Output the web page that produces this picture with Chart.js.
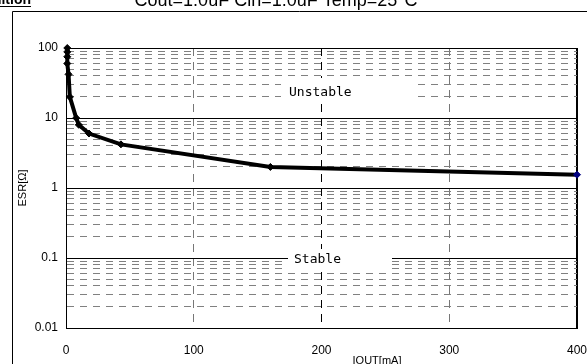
<!DOCTYPE html>
<html lang="en">
<head>
    <meta charset="UTF-8">
    <title>ESR vs IOUT</title>
    <style>
        html, body {
            margin: 0;
            padding: 0;
            background: #ffffff;
        }
        #wrap {
            width: 587px;
            height: 364px;
        }
    </style>
</head>
<body>
    <div id="wrap"><canvas id="esrChart" width="587" height="364"></canvas></div>

    <script src="https://cdn.jsdelivr.net/npm/chart.js@4"></script>
    <script>
        // values
        const ioutMA = [1, 1, 1, 1, 2, 3, 8, 10, 18, 43, 160, 400];
        const esrOhm = [100, 88, 75, 60, 42, 20, 10, 8, 6, 4.2, 2.0, 1.55];
        const xTickValues = [0, 100, 200, 300, 400];
        const yTickValues = [0.01, 0.1, 1, 10, 100];

        const isDecade = v => Math.abs(Math.log10(v) - Math.round(Math.log10(v))) < 1e-6;
        const isOneAndHalf = v => {
            const m = v / Math.pow(10, Math.floor(Math.log10(v) + 1e-9));
            return Math.abs(m - 1.5) < 1e-6;
        };

        // frame, title fragments, axis titles and the region labels
        const decor = {
            id: 'decor',
            beforeDatasetsDraw(chart) {
                const ctx = chart.ctx;
                ctx.save();
                ctx.fillStyle = '#ffffff';
                ctx.fillRect(281, 78, 134, 25);
                ctx.fillRect(288, 249, 104, 21);
                ctx.fillStyle = '#000';
                ctx.font = '13px "DejaVu Sans Mono"';
                ctx.textBaseline = 'middle';
                ctx.textAlign = 'left';
                ctx.fillText('Unstable', 289, 93);
                ctx.fillText('Stable', 294, 260);
                ctx.restore();
            },
            afterDraw(chart) {
                const ctx = chart.ctx;
                ctx.save();
                ctx.strokeStyle = '#000';
                ctx.lineWidth = 1;
                ctx.beginPath();
                ctx.moveTo(12.5, 364);
                ctx.lineTo(12.5, 11.5);
                ctx.lineTo(587, 11.5);
                ctx.stroke();

                ctx.fillStyle = '#000';
                ctx.font = '18px "Liberation Sans", Arial, sans-serif';
                ctx.textAlign = 'center';
                ctx.textBaseline = 'alphabetic';
                ctx.fillText('Cout=1.0uF Cin=1.0uF Temp=25\u00B0C', 276, 6);

                ctx.font = 'bold 14px "Liberation Sans", Arial, sans-serif';
                ctx.textAlign = 'right';
                ctx.fillText('Condition', 31, 4);
                ctx.beginPath();
                ctx.moveTo(0, 6.5);
                ctx.lineTo(31, 6.5);
                ctx.stroke();

                ctx.font = '11px "Liberation Sans", Arial, sans-serif';
                ctx.textAlign = 'center';
                ctx.textBaseline = 'top';
                ctx.fillText('IOUT[mA]', 377, 355);

                ctx.translate(23, 188);
                ctx.rotate(-Math.PI / 2);
                ctx.textBaseline = 'middle';
                ctx.font = '11px "Liberation Sans", Arial, sans-serif';
                ctx.fillText('ESR[\u03A9]', 0, 0);
                ctx.restore();
            }
        };

        const pointColors = esrOhm.map((v, i) => i === esrOhm.length - 1 ? '#000080' : '#000');

        new Chart(document.getElementById('esrChart'), {
            type: 'scatter',
            data: {
                datasets: [{
                    data: ioutMA.map((x, i) => ({ x: x, y: esrOhm[i] })),
                    showLine: true,
                    borderColor: '#000',
                    borderWidth: 4,
                    pointStyle: 'rectRot',
                    pointRadius: 3.5,
                    pointBackgroundColor: pointColors,
                    pointBorderColor: pointColors,
                    pointBorderWidth: 1,
                    tension: 0,
                    clip: false
                }]
            },
            options: {
                responsive: false,
                animation: false,
                events: [],
                layout: { padding: { left: 12, right: 10, top: 48, bottom: 0 } },
                plugins: {
                    legend: { display: false },
                    tooltip: { enabled: false }
                },
                scales: {
                    x: {
                        type: 'linear',
                        min: 0,
                        max: 400,
                        afterBuildTicks: s => { s.ticks = xTickValues.map(v => ({ value: v })); },
                        afterFit: s => {
                            s.height = 36;
                            s.paddingLeft = 0;
                            s.paddingRight = 0;
                        },
                        ticks: {
                            color: '#000',
                            padding: 15,
                            maxRotation: 0,
                            font: { family: '"Liberation Sans", Arial, sans-serif', size: 12 }
                        },
                        grid: {
                            drawTicks: false,
                            color: c => {
                                if (!c.tick) return '#000';
                                if (c.tick.value === 0) return 'rgba(0,0,0,0)';
                                if (c.tick.value === 400) return '#000';
                                return c.tick.value === 200 ? '#000' : '#777';
                            },
                            lineWidth: c => (c.tick && c.tick.value === 400) ? 2 : 1
                        },
                        border: {
                            color: '#000',
                            width: 1,
                            dash: c => (c.tick && c.tick.value > 0 && c.tick.value < 400) ? [8, 6] : []
                        }
                    },
                    y: {
                        type: 'logarithmic',
                        min: 0.01,
                        max: 100,
                        afterBuildTicks: s => { s.ticks = s.ticks.filter(t => !isOneAndHalf(t.value)); },
                        afterFit: s => { s.width = 54; },
                        ticks: {
                            color: '#000',
                            padding: 8,
                            autoSkip: false,
                            font: { family: '"Liberation Sans", Arial, sans-serif', size: 12 },
                            callback: v => yTickValues.some(t => Math.abs(t - v) < 1e-9) ? String(v) : ''
                        },
                        grid: {
                            drawTicks: false,
                            color: c => (!c.tick || isDecade(c.tick.value)) ? '#000' : '#808080',
                            lineWidth: 1
                        },
                        border: {
                            color: '#000',
                            width: 1,
                            dash: c => (c.tick && !isDecade(c.tick.value)) ? [7, 6] : []
                        }
                    }
                }
            },
            plugins: [decor]
        });
    </script>
</body>
</html>
